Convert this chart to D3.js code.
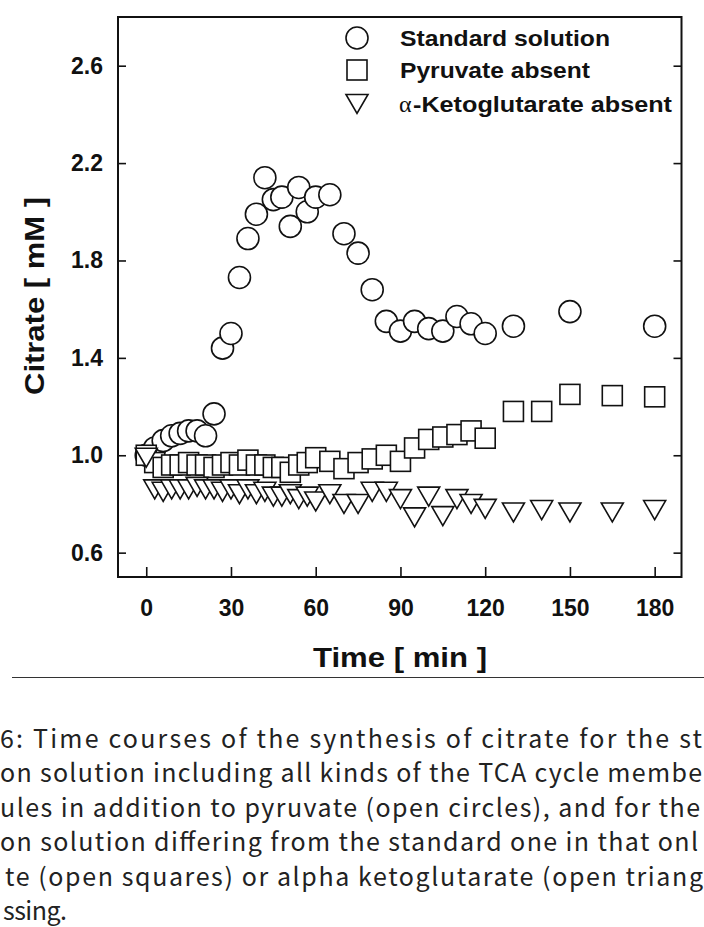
<!DOCTYPE html>
<html>
<head>
<meta charset="utf-8">
<script src="https://cdn.jsdelivr.net/npm/d3@7"></script>
<style>
  html, body { margin: 0; padding: 0; background: #fff; }
  svg { display: block; }
</style>
</head>
<body>
<script>
// ---- data ----
const timesStd = [0,3,6,9,12,15,18,21,24,27,30,33,36,39,42,45,48,51,54,57,60,65,70,75,80,85,90,95,100,105,110,115,120,130,150,180];
const standardSolution = [1.00,1.03,1.06,1.08,1.09,1.10,1.10,1.08,1.17,1.44,1.50,1.73,1.89,1.99,2.14,2.05,2.06,1.94,2.10,2.00,2.06,2.07,1.91,1.83,1.68,1.55,1.51,1.55,1.52,1.51,1.57,1.54,1.50,1.53,1.59,1.53];

const timesAbs = [0,3,6,9,12,15,18,21,24,27,30,33,36,39,42,45,48,51,54,57,60,65,70,75,80,85,90,95,100,105,110,115,120,130,140,150,165,180];
const pyruvateAbsent = [1.00,0.97,0.95,0.96,0.96,0.97,0.96,0.96,0.95,0.96,0.97,0.96,0.98,0.96,0.96,0.95,0.95,0.93,0.96,0.97,0.99,0.975,0.945,0.97,0.985,1.00,0.975,1.03,1.065,1.075,1.085,1.10,1.07,1.18,1.18,1.25,1.245,1.24];
const ketoglutarateAbsent = [0.99,0.86,0.85,0.86,0.86,0.86,0.87,0.86,0.86,0.85,0.86,0.84,0.86,0.84,0.85,0.83,0.83,0.84,0.82,0.83,0.81,0.84,0.80,0.80,0.85,0.85,0.82,0.745,0.83,0.75,0.82,0.80,0.78,0.765,0.775,0.765,0.765,0.775];

const xTicks = [0,30,60,90,120,150,180];
const yTicks = [0.6,1.0,1.4,1.8,2.2,2.6];
const legendLabels = ["Standard solution","Pyruvate absent","-Ketoglutarate absent"];
const xTitle = "Time [ min ]";
const yTitle = "Citrate [ mM ]";
const captionLines = [
  "6: Time courses of the synthesis of citrate for the st",
  "on solution including all kinds of the TCA cycle membe",
  "ules in addition to pyruvate (open circles), and for the",
  "on solution differing from the standard one in that onl",
  "te (open squares) or alpha ketoglutarate (open triang",
  "ssing."
];

// ---- layout ----
const W = 704, H = 927;
const L = 118, R = 681.5, T = 17, B = 577;

const svg = d3.select("body").append("svg").attr("width", W).attr("height", H);

const x = d3.scaleLinear().domain([-10, 189.5]).range([L, R]);
const y = d3.scaleLinear().domain([0.5, 2.8]).range([B, T]);

const chartFont = "'Liberation Sans', Arial, sans-serif";

// axes
const gl = svg.append("g").attr("transform", `translate(${L},0)`)
  .call(d3.axisLeft(y).tickValues(yTicks).tickFormat(d3.format(".1f")).tickSize(-8).tickPadding(15));
const gr = svg.append("g").attr("transform", `translate(${R},0)`)
  .call(d3.axisRight(y).tickValues(yTicks).tickFormat("").tickSize(-8));
const gb = svg.append("g").attr("transform", `translate(0,${B})`)
  .call(d3.axisBottom(x).tickValues(xTicks).tickFormat(d3.format("d")).tickSize(-10).tickPadding(23));
[gl, gr, gb].forEach(g => {
  g.select(".domain").remove();
  g.selectAll(".tick line").attr("stroke", "#111").attr("stroke-width", 1.6);
  g.selectAll(".tick text").attr("fill", "#111")
    .style("font-family", chartFont).style("font-weight", "bold").style("font-size", "23px");
});

// frame
svg.append("rect").attr("x", L).attr("y", T).attr("width", R - L).attr("height", B - T)
  .attr("fill", "none").attr("stroke", "#111").attr("stroke-width", 2);

// axis titles
svg.append("text").attr("x", 400).attr("y", 667)
  .attr("text-anchor", "middle").attr("fill", "#111")
  .attr("textLength", 174).attr("lengthAdjust", "spacingAndGlyphs")
  .style("font-family", chartFont).style("font-weight", "bold").style("font-size", "27px")
  .text(xTitle);
svg.append("text").attr("transform", `translate(44,296) rotate(-90)`)
  .attr("text-anchor", "middle").attr("fill", "#111")
  .attr("textLength", 198).attr("lengthAdjust", "spacingAndGlyphs")
  .style("font-family", chartFont).style("font-weight", "bold").style("font-size", "27px")
  .text(yTitle);

// markers
const sw = 1.6;
const triPath = "M-11,-9.5L11,-9.5L0,9.5Z";

const stdData = timesStd.map((t, i) => ({t, v: standardSolution[i]}));
const pyrData = timesAbs.map((t, i) => ({t, v: pyruvateAbsent[i]}));
const ketoData = timesAbs.map((t, i) => ({t, v: ketoglutarateAbsent[i]}));

svg.append("g").selectAll("circle").data(stdData).join("circle")
  .attr("cx", d => x(d.t)).attr("cy", d => y(d.v)).attr("r", 11)
  .attr("fill", "#fff").attr("stroke", "#111").attr("stroke-width", sw);

svg.append("g").selectAll("rect").data(pyrData).join("rect")
  .attr("x", d => x(d.t) - 10).attr("y", d => y(d.v) - 10).attr("width", 20).attr("height", 20)
  .attr("fill", "#fff").attr("stroke", "#111").attr("stroke-width", sw);

svg.append("g").selectAll("path").data(ketoData).join("path")
  .attr("transform", d => `translate(${x(d.t)},${y(d.v)})`).attr("d", triPath)
  .attr("fill", "#fff").attr("stroke", "#111").attr("stroke-width", sw);

// legend
const lg = svg.append("g");
const lx = 357, ly = [38, 70, 104], tx = 400;
lg.append("circle").attr("cx", lx).attr("cy", ly[0]).attr("r", 11)
  .attr("fill", "#fff").attr("stroke", "#111").attr("stroke-width", sw);
lg.append("rect").attr("x", lx - 10).attr("y", ly[1] - 10).attr("width", 20).attr("height", 20)
  .attr("fill", "#fff").attr("stroke", "#111").attr("stroke-width", sw);
lg.append("path").attr("transform", `translate(${lx},${ly[2]})`).attr("d", triPath)
  .attr("fill", "#fff").attr("stroke", "#111").attr("stroke-width", sw);
const legendLen = [210, 190, 259];
legendLabels.forEach((lab, i) => {
  const t = lg.append("text").attr("y", ly[i] + 8).attr("fill", "#111")
    .style("font-family", chartFont).style("font-weight", "bold").style("font-size", "22px");
  if (i === 2) {
    lg.append("text").attr("x", 399).attr("y", ly[i] + 8).attr("fill", "#111")
      .style("font-family", "'Liberation Serif', 'Times New Roman', serif")
      .style("font-size", "24px").text("α");
    t.attr("x", 413);
  } else {
    t.attr("x", tx);
  }
  t.attr("textLength", legendLen[i]).attr("lengthAdjust", "spacingAndGlyphs").text(lab);
});

// separator line
svg.append("line").attr("x1", 12).attr("x2", W).attr("y1", 677.5).attr("y2", 677.5)
  .attr("stroke", "#333").attr("stroke-width", 1.2);

// caption
const capStart = [0, 0, 0, 0, 5, 3];
const capLen = [702, 702, 700, 698, 698, 64];
svg.append("g").selectAll("text").data(captionLines).join("text")
  .attr("x", (d, i) => capStart[i])
  .attr("y", (d, i) => 748 + i * 34.4)
  .attr("textLength", (d, i) => capLen[i])
  .attr("lengthAdjust", "spacing")
  .attr("fill", "#222")
  .style("font-family", "'Noto Sans CJK JP', 'Noto Sans', sans-serif")
  .style("font-size", "25px")
  .text(d => d);
</script>
</body>
</html>
